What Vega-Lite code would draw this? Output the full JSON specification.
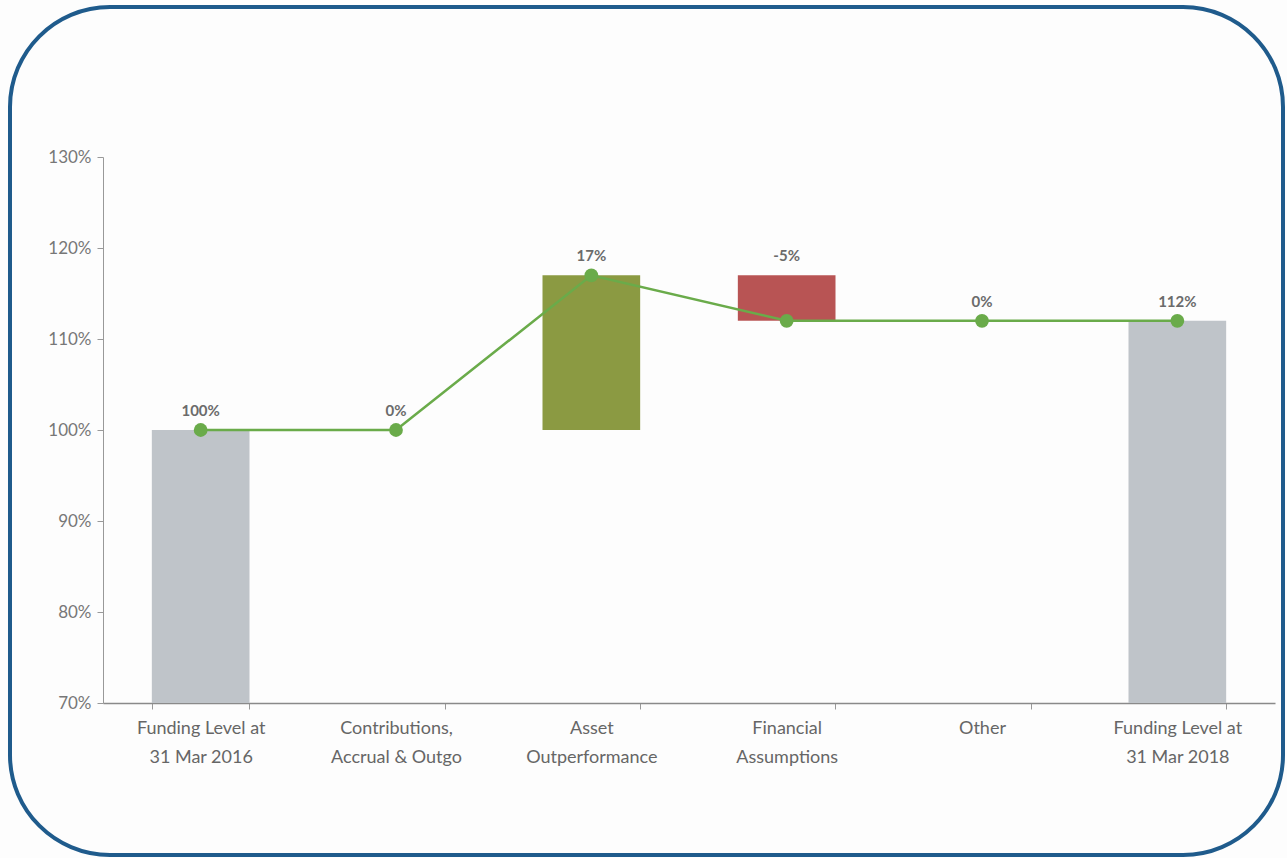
{
  "$schema": "https://vega.github.io/schema/vega-lite/v6.json",
  "description": "Funding level waterfall, 31 Mar 2016 to 31 Mar 2018.",
  "width": 1273,
  "height": 848,
  "autosize": "none",
  "padding": {"left": 10, "top": 7, "right": 4, "bottom": 3},
  "background": "#fdfdfd",
  "config": {
    "view": {"stroke": "#1f5b8c", "strokeWidth": 4, "cornerRadius": 100},
    "font": "Lato"
  },
  "data": {
    "values": [
      {"cat": "Funding Level at|31 Mar 2016", "start": 70, "end": 100, "level": 100, "top": 100, "label": "100%", "kind": "total"},
      {"cat": "Contributions,|Accrual & Outgo", "start": 100, "end": 100, "level": 100, "top": 100, "label": "0%", "kind": "none"},
      {"cat": "Asset|Outperformance", "start": 100, "end": 117, "level": 117, "top": 117, "label": "17%", "kind": "up"},
      {"cat": "Financial|Assumptions", "start": 117, "end": 112, "level": 112, "top": 117, "label": "-5%", "kind": "down"},
      {"cat": "Other", "start": 112, "end": 112, "level": 112, "top": 112, "label": "0%", "kind": "none"},
      {"cat": "Funding Level at|31 Mar 2018", "start": 70, "end": 112, "level": 112, "top": 112, "label": "112%", "kind": "total"}
    ]
  },
  "encoding": {
    "x": {
      "field": "cat",
      "type": "nominal",
      "sort": [
        "Funding Level at|31 Mar 2016",
        "Contributions,|Accrual & Outgo",
        "Asset|Outperformance",
        "Financial|Assumptions",
        "Other",
        "Funding Level at|31 Mar 2018"
      ],
      "title": null,
      "scale": {"range": [93, 1265], "paddingInner": 0.5, "paddingOuter": 0.25},
      "axis": {
        "labelAngle": 0,
        "labelExpr": "split(datum.label, '|')",
        "labelFontSize": 18,
        "labelColor": "#666666",
        "labelLineHeight": 29,
        "labelPadding": 10,
        "tickBand": "extent",
        "tickSize": 6,
        "tickColor": "#999999",
        "domainColor": "#8a8a8a",
        "domainWidth": 1.5,
        "offset": -152
      }
    }
  },
  "layer": [
    {
      "transform": [{"filter": "datum.start != datum.end"}],
      "mark": {"type": "bar"},
      "encoding": {
        "y": {
          "field": "start",
          "type": "quantitative",
          "title": null,
          "scale": {"domain": [70, 130], "range": [696, 150], "zero": false, "nice": false},
          "axis": {
            "values": [70, 80, 90, 100, 110, 120, 130],
            "labelExpr": "datum.value + '%'",
            "labelFontSize": 17,
            "labelColor": "#777777",
            "labelPadding": 6,
            "grid": false,
            "tickSize": 6,
            "tickColor": "#999999",
            "domainColor": "#999999",
            "offset": -93
          }
        },
        "y2": {"field": "end"},
        "color": {
          "field": "kind",
          "type": "nominal",
          "legend": null,
          "scale": {"domain": ["total", "up", "down"], "range": ["#bfc4c9", "#8b9a42", "#b85454"]}
        }
      }
    },
    {
      "mark": {"type": "line", "color": "#6aab4a", "strokeWidth": 2.5},
      "encoding": {"y": {"field": "level", "type": "quantitative"}}
    },
    {
      "mark": {"type": "point", "filled": true, "opacity": 1, "color": "#6aab4a", "size": 190},
      "encoding": {"y": {"field": "level", "type": "quantitative"}}
    },
    {
      "mark": {"type": "text", "dy": -19, "fontSize": 15, "fontWeight": "bold", "color": "#6b6b6b"},
      "encoding": {
        "y": {"field": "top", "type": "quantitative"},
        "text": {"field": "label"}
      }
    }
  ]
}
